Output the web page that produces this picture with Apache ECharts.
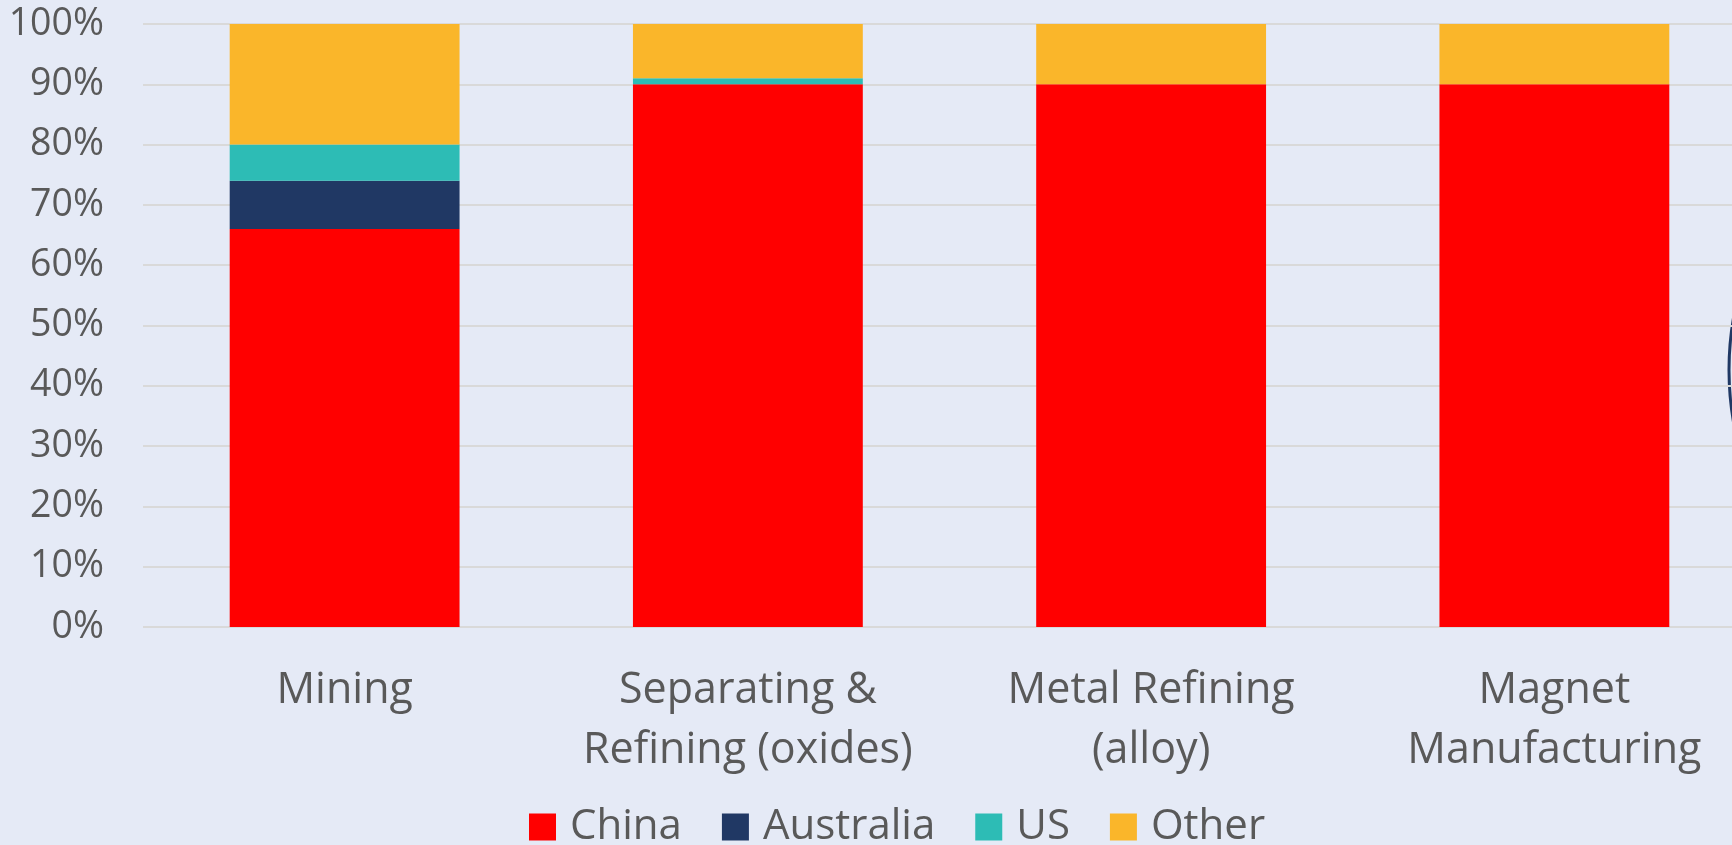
<!DOCTYPE html>
<html>
<head>
<meta charset="utf-8">
<script src="https://cdn.jsdelivr.net/npm/echarts@6/dist/echarts.min.js"></script>
<style>
  html, body { margin: 0; padding: 0; background: #E5EAF6; }
  #chart { width: 1732px; height: 845px; }
</style>
</head>
<body>
<div id="chart"></div>
<script>
// 供应链环节
var categories = ['Mining', 'Separating &\nRefining (oxides)', 'Metal Refining\n(alloy)', 'Magnet\nManufacturing'];
// 各国份额 (%)
var china = [66, 90, 90, 90];
var australia = [8, 0, 0, 0];
var us = [6, 1, 0, 0];
var other = [20, 9, 10, 10];
var yTicks = [0, 100, 10];

var colors = ['#FF0000', '#203864', '#2DBCB5', '#FAB62A'];

function makeSeries(name, data, color) {
    return {
        name: name,
        type: 'bar',
        stack: 'total',
        barWidth: '57%',
        itemStyle: {color: color},
        data: data
    };
}

var myChart = echarts.init(document.getElementById('chart'));
myChart.setOption({
    backgroundColor: '#E5EAF6',
    textStyle: {fontFamily: 'Open Sans'},
    // 右侧超出画布，最后一个柱子被裁掉一截空白
    grid: {left: 143, top: 24, width: 1613, height: 603, containLabel: false, outerBoundsMode: 'none'},
    legend: {
        left: 529,
        top: 806,
        padding: 0,
        itemWidth: 27,
        itemHeight: 27,
        itemGap: 40,
        icon: 'rect',
        textStyle: {fontSize: 42, color: '#595959', fontFamily: 'Open Sans', padding: [0, 0, 0, 9]},
        data: ['China', 'Australia', 'US', 'Other']
    },
    xAxis: {
        type: 'category',
        data: categories,
        axisLine: {show: false},
        axisTick: {show: false},
        axisLabel: {
            interval: 0,
            fontSize: 43,
            lineHeight: 60,
            margin: 34,
            color: '#595959',
            fontFamily: 'Open Sans'
        }
    },
    yAxis: {
        type: 'value',
        min: yTicks[0],
        max: yTicks[1],
        interval: yTicks[2],
        axisLine: {show: false},
        axisTick: {show: false},
        axisLabel: {
            formatter: '{value}%',
            fontSize: 37.5,
            margin: 39,
            color: '#595959',
            fontFamily: 'Open Sans'
        },
        splitLine: {lineStyle: {color: '#D9D9D9', width: 2}}
    },
    graphic: [{
        type: 'circle',
        shape: {cx: 2029, cy: 370, r: 300},
        style: {fill: 'none', stroke: '#203864', lineWidth: 3},
        silent: true
    }],
    series: [
        makeSeries('China', china, colors[0]),
        makeSeries('Australia', australia, colors[1]),
        makeSeries('US', us, colors[2]),
        makeSeries('Other', other, colors[3])
    ]
});
</script>
</body>
</html>
